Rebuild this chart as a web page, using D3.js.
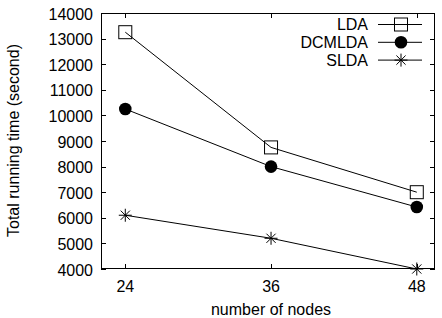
<!DOCTYPE html>
<html><head><meta charset="utf-8">
<script src="https://cdn.jsdelivr.net/npm/d3@7"></script>
<style>body{margin:0;background:#fff}svg{display:block}text{font-family:"Liberation Sans",Arial,sans-serif;font-size:16px;fill:#000}</style>
</head><body>
<script>
const nodes = [24, 36, 48];
const xTicks = [24, 36, 48];
const yTicks = [4000,5000,6000,7000,8000,9000,10000,11000,12000,13000,14000];
const seriesNames = ["LDA", "DCMLDA", "SLDA"];
const lda = [13250, 8750, 7000];
const dcmlda = [10250, 8000, 6420];
const slda = [6100, 5200, 4000];
const seriesValues = [lda, dcmlda, slda];

const W = 442, H = 318;
const m = {l:101, r:435, t:13, b:269};
const svg = d3.select("body").append("svg").attr("width", W).attr("height", H);
const x = d3.scaleLinear().domain([22, 49.5]).range([m.l, m.r]);
const y = d3.scaleLinear().domain([4000, 14000]).range([m.b, m.t]);

// ticks
const tl = 5;
const g = svg.append("g").attr("stroke", "#000").attr("stroke-width", 1).attr("shape-rendering","crispEdges");
yTicks.forEach(v => {
  g.append("line").attr("x1", m.l).attr("x2", m.l+tl).attr("y1", Math.round(y(v))+0.5).attr("y2", Math.round(y(v))+0.5);
  g.append("line").attr("x1", m.r-tl).attr("x2", m.r).attr("y1", Math.round(y(v))+0.5).attr("y2", Math.round(y(v))+0.5);
});
xTicks.forEach(v => {
  g.append("line").attr("x1", Math.round(x(v))+0.5).attr("x2", Math.round(x(v))+0.5).attr("y1", m.b).attr("y2", m.b-tl);
  g.append("line").attr("x1", Math.round(x(v))+0.5).attr("x2", Math.round(x(v))+0.5).attr("y1", m.t).attr("y2", m.t+tl);
});
g.append("rect").attr("x", m.l+0.5).attr("y", m.t+0.5).attr("width", m.r-m.l-1).attr("height", m.b-m.t-1).attr("fill","none");

// tick labels
svg.selectAll(".yl").data(yTicks).enter().append("text")
  .attr("x", m.l-8).attr("y", d => y(d)+6.5).attr("text-anchor","end").text(d => d);
svg.selectAll(".xl").data(xTicks).enter().append("text")
  .attr("x", d => x(d)).attr("y", 292).attr("text-anchor","middle").text(d => d);

svg.append("text").attr("x", 271).attr("y", 315).attr("text-anchor","middle").text("number of nodes");
svg.append("text").attr("transform", "translate(18.5,140.5) rotate(-90)").attr("text-anchor","middle").text("Total running time (second)");

// markers
function marker(sel, i, cx, cy) {
  if (i === 0) {
    sel.append("rect").attr("x", cx-6.5).attr("y", cy-6.5).attr("width", 13).attr("height", 13)
      .attr("fill", "none").attr("stroke", "#000").attr("stroke-width", 1);
  } else if (i === 1) {
    sel.append("circle").attr("cx", cx).attr("cy", cy).attr("r", 6.3).attr("fill", "#000");
  } else {
    const s = 6.5, d = 4.6;
    sel.append("path").attr("d", `M${cx-s},${cy}H${cx+s}M${cx},${cy-s}V${cy+s}M${cx-d},${cy-d}L${cx+d},${cy+d}M${cx-d},${cy+d}L${cx+d},${cy-d}`)
      .attr("stroke", "#000").attr("stroke-width", 1).attr("fill","none");
  }
}

const line = d3.line().x((d,i) => x(nodes[i])).y(d => y(d));
seriesValues.forEach((vals, i) => {
  svg.append("path").attr("d", line(vals)).attr("fill","none").attr("stroke","#000").attr("stroke-width",1);
  const gm = svg.append("g");
  vals.forEach((v, j) => marker(gm, i, x(nodes[j]), y(v)));
});

// legend
seriesNames.forEach((n, i) => {
  const ly = 24.5 + i*17.8;
  svg.append("text").attr("x", 368).attr("y", ly+5.5).attr("text-anchor","end").text(n);
  svg.append("line").attr("x1", 378).attr("x2", 422).attr("y1", ly).attr("y2", ly).attr("stroke","#000");
  marker(svg.append("g"), i, 401, ly);
});
</script>
</body></html>
